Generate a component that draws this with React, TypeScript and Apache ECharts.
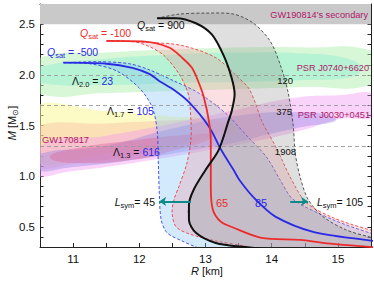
import React, { useEffect, useRef } from 'react';
import * as echarts from 'echarts';

type P = [number, number];
const FONT = '"Liberation Sans", Arial, Helvetica, sans-serif';
const RED = '#ee2b2b';
const BLUE = '#2a2ae6';
const BLACK = '#111111';
const TEAL = '#0d8a8a';
const MAGENTA = '#b0186a';

// axis ranges
const xRange = [10.5, 15.5];
const yRange = [0.3, 2.7];
const xTickStep = 0.5;
const yTickStep = 0.1;

// observation-derived values
const gw190814Band = [2.5, 2.7];
const lambdaMasses = [2.0, 1.7, 1.3];
const lambdaValues = ['23', '105', '616'];
const qsatValues = ['900', '-100', '-500'];
const lsymValues = ['45', '65', '85', '105'];
const grayLabels = ['120', '375', '1908'];
const lsymArrowLeft: P[] = [[12.78, 0.75], [12.3, 0.75]];
const lsymArrowRight: P[] = [[14.28, 0.75], [14.55, 0.75]];

// Q_sat = -500 family (blue)
const blueSolid: P[] = [[10.85, 2.12], [11.505, 2.11], [11.895, 2.07], [12.15, 2.01], [12.3, 1.94], [12.525, 1.85], [12.75, 1.73], [13.05, 1.49], [13.245, 1.25], [13.425, 1.06], [13.515, 0.96], [13.755, 0.77], [14.055, 0.6], [14.625, 0.45], [15.42, 0.37], [15.7, 0.35]];
const blueDashedLeft: P[] = [[10.86, 2.12], [11.25, 2.11], [11.655, 2.04], [12.0, 1.87], [12.195, 1.68], [12.27, 1.45], [12.285, 1.19], [12.3, 0.87], [12.33, 0.57], [12.42, 0.44], [12.645, 0.36], [12.855, 0.3], [13.2, 0.22]];
const blueDashedRight: P[] = [[10.86, 2.12], [11.4, 2.13], [11.85, 2.11], [12.15, 2.05], [12.525, 1.94], [12.9, 1.82], [13.305, 1.62], [13.65, 1.38], [13.92, 1.19], [14.13, 0.96], [14.325, 0.77], [14.925, 0.57], [15.48, 0.44], [15.7, 0.41]];

// Q_sat = -100 family (red)
const redSolid: P[] = [[11.505, 2.335], [12.045, 2.33], [12.45, 2.27], [12.645, 2.17], [12.795, 2.07], [12.9, 1.92], [12.975, 1.78], [13.05, 1.55], [13.08, 1.36], [13.08, 0.9], [13.11, 0.67], [13.23, 0.55], [13.425, 0.49], [13.845, 0.39], [14.43, 0.37], [14.925, 0.33], [15.5, 0.3], [15.7, 0.29]];
const redDashedLeft: P[] = [[11.505, 2.335], [11.9, 2.33], [12.15, 2.28], [12.375, 2.19], [12.6, 2.01], [12.705, 1.875], [12.75, 1.78], [12.78, 1.55], [12.78, 1.36], [12.72, 1.13], [12.6, 0.9], [12.525, 0.77], [12.495, 0.64], [12.555, 0.5], [12.75, 0.43], [13.155, 0.36], [13.575, 0.31], [14.2, 0.22]];
const redDashedRight: P[] = [[11.505, 2.335], [12.15, 2.32], [12.645, 2.29], [13.155, 2.17], [13.5, 1.97], [13.65, 1.87], [13.755, 1.72], [13.845, 1.55], [14.07, 1.28], [14.28, 0.99], [14.52, 0.74], [14.925, 0.59], [15.48, 0.47], [15.7, 0.45]];

// Q_sat = 900 family (black / grey)
const blackSolid: P[] = [[12.27, 2.56], [12.555, 2.56], [12.855, 2.51], [13.095, 2.4], [13.275, 2.19], [13.395, 1.97], [13.44, 1.81], [13.395, 1.64], [13.35, 1.55], [13.2, 1.26], [13.0, 1.06], [12.825, 0.87], [12.75, 0.72], [12.75, 0.57], [12.855, 0.44], [13.155, 0.34], [13.6, 0.3], [14.3, 0.26]];
const blackDashed: P[] = [[12.27, 2.56], [12.6, 2.6], [13.0, 2.61], [13.425, 2.6], [13.725, 2.51], [13.98, 2.33], [14.145, 2.07], [14.25, 1.82], [14.325, 1.5], [14.355, 1.23], [14.43, 0.99], [14.55, 0.77], [14.775, 0.6], [15.12, 0.47], [15.48, 0.4], [15.7, 0.38]];
const bandCorner: P = [15.7, 0.2];

// observational regions
const j0740Outer: P[] = [[10.5, 2.17], [11.5, 2.22], [12.5, 2.25], [13.5, 2.27], [14.5, 2.27], [15.5, 2.24], [15.6, 2.07], [15.5, 1.9], [14.5, 1.88], [13.5, 1.86], [12.5, 1.84], [11.5, 1.82], [10.5, 1.81], [10.4, 2.0]];
const j0740Inner: P[] = [[10.5, 2.08], [11.5, 2.16], [12.5, 2.2], [13.5, 2.22], [14.5, 2.21], [15.2, 2.15], [15.35, 2.06], [15.2, 1.98], [14.5, 1.95], [13.5, 1.93], [12.5, 1.92], [11.5, 1.9], [10.5, 1.92], [10.4, 2.0]];
const j0030Outer: P[] = [[10.5, 1.3], [11.5, 1.4], [12.5, 1.52], [13.5, 1.66], [14.3, 1.77], [15.0, 1.8], [15.6, 1.8], [15.6, 1.6], [15.0, 1.56], [14.5, 1.46], [14.0, 1.38], [13.0, 1.25], [12.0, 1.14], [11.0, 1.05], [10.4, 1.02]];
const j0030Inner: P[] = [[10.4, 1.2], [11.5, 1.3], [12.5, 1.47], [13.5, 1.6], [14.5, 1.63], [14.95, 1.58], [14.95, 1.54], [14.5, 1.49], [14.0, 1.42], [13.5, 1.34], [13.0, 1.28], [12.0, 1.17], [11.0, 1.09], [10.4, 1.06]];
const gwYellow: P[] = [[10.4, 1.68], [11.5, 1.64], [12.5, 1.59], [13.2, 1.56], [13.45, 1.48], [13.3, 1.38], [12.5, 1.3], [11.5, 1.22], [10.4, 1.15]];
const gwPeach: P[] = [[10.4, 1.47], [11.5, 1.52], [12.5, 1.55], [13.1, 1.55], [13.35, 1.47], [13.1, 1.4], [12.0, 1.22], [11.0, 1.12], [10.4, 1.1]];
const gwRose: P[] = [[10.65, 1.19], [11.0, 1.27], [12.0, 1.36], [12.8, 1.41], [13.1, 1.41], [13.05, 1.36], [12.5, 1.25], [12.0, 1.17], [11.0, 1.13]];

function band(left: P[], right: P[]): P[] {
  return [...left, bandCorner, ...right.slice().reverse()];
}

function polySeries(pts: P[], fill: string, z: number, stroke?: string, smooth = 0.3) {
  return {
    type: 'custom',
    coordinateSystem: 'cartesian2d',
    clip: true,
    silent: true,
    z,
    data: [pts[0]],
    renderItem: (_params: any, api: any) => ({
      type: 'polygon',
      shape: { points: pts.map((p) => api.coord(p)), smooth },
      style: stroke
        ? { fill, stroke, lineWidth: 0.8, lineDash: [3, 2] }
        : { fill, stroke: 'none' },
    }),
  };
}

function lineSeries(pts: P[], color: string, width: number) {
  return {
    type: 'line',
    data: pts,
    showSymbol: false,
    smooth: 0.3,
    clip: true,
    silent: true,
    z: 5,
    lineStyle: { color, width },
  };
}

function arrowSeries(pts: P[]) {
  return {
    type: 'lines',
    coordinateSystem: 'cartesian2d',
    silent: true,
    z: 6,
    symbol: ['none', 'arrow'],
    symbolSize: 7,
    lineStyle: { color: TEAL, width: 2, opacity: 1 },
    data: [{ coords: pts }],
  };
}

function richSet(color: string, size = 10.5) {
  const base = { fontFamily: FONT, fill: color, color };
  return {
    i: { ...base, fontStyle: 'italic', fontSize: size, lineHeight: 14, verticalAlign: 'middle' },
    s: { ...base, fontSize: 7.5, lineHeight: 7, verticalAlign: 'bottom' },
    n: { ...base, fontSize: size, lineHeight: 14, verticalAlign: 'middle' },
    b: { fontFamily: FONT, fill: BLUE, color: BLUE, fontSize: size, lineHeight: 14, verticalAlign: 'middle' },
  };
}

function txt(x: number, y: number, text: string, color: string, align = 'left', fontSize = 10.5, rich?: any, rotation = 0) {
  const r = rich || richSet(color, fontSize);
  const t = rich ? text : `{n|${text}}`;
  return {
    type: 'text',
    x,
    y,
    rotation,
    z: 100,
    silent: true,
    style: {
      text: t,
      rich: r,
      fill: color,
      fontSize,
      fontFamily: FONT,
      align,
      verticalAlign: 'middle',
    },
  };
}

const axisLineStyle = { color: '#222', width: 1 };

function xAxisCfg(position: string, labels: boolean) {
  return {
    type: 'value',
    min: xRange[0],
    max: xRange[1],
    interval: xTickStep,
    position,
    axisLine: { show: true, onZero: false, lineStyle: axisLineStyle },
    axisTick: { show: true, inside: true, length: 4, lineStyle: axisLineStyle },
    axisLabel: {
      show: labels,
      margin: 6,
      color: '#111',
      fontSize: 11.5,
      fontFamily: FONT,
      formatter: (v: number) => (Math.abs(v - Math.round(v)) < 1e-6 ? String(Math.round(v)) : ''),
    },
    splitLine: { show: false },
  };
}

function yAxisCfg(position: string, labels: boolean) {
  return {
    type: 'value',
    min: yRange[0],
    max: yRange[1],
    interval: yTickStep,
    position,
    axisLine: { show: true, onZero: false, lineStyle: axisLineStyle },
    axisTick: { show: true, inside: true, length: 3.5, lineStyle: axisLineStyle },
    axisLabel: {
      show: labels,
      margin: 5,
      color: '#111',
      fontSize: 11.5,
      fontFamily: FONT,
      formatter: (v: number) => (Math.abs(v * 2 - Math.round(v * 2)) < 1e-6 ? v.toFixed(1) : ''),
    },
    splitLine: { show: false },
  };
}

function buildOption() {
  const black = richSet(BLACK);
  const red = richSet(RED);
  const blue = richSet(BLUE);
  return {
    animation: false,
    grid: { left: 40, right: 2, top: 4, bottom: 34, containLabel: false },
    xAxis: [xAxisCfg('bottom', true), xAxisCfg('top', false)],
    yAxis: [yAxisCfg('left', true), yAxisCfg('right', false)],
    series: [
      {
        type: 'line',
        data: [],
        z: 1,
        silent: true,
        markArea: {
          silent: true,
          itemStyle: { color: '#c9c9c9' },
          data: [[{ yAxis: gw190814Band[0] }, { yAxis: gw190814Band[1] }]],
        },
      },
      polySeries(j0740Outer, 'rgba(175,240,175,0.5)', 2, undefined, 0.5),
      polySeries(j0740Inner, 'rgba(120,235,205,0.35)', 2, undefined, 0.5),
      polySeries(gwYellow, 'rgba(250,248,150,0.55)', 2, undefined, 0.4),
      polySeries(gwPeach, 'rgba(250,185,160,0.4)', 2, undefined, 0.4),
      polySeries(j0030Outer, 'rgba(240,150,240,0.42)', 2, undefined, 0.5),
      polySeries(j0030Inner, 'rgba(145,130,230,0.38)', 2, undefined, 0.5),
      polySeries(gwRose, 'rgba(220,100,150,0.4)', 2, undefined, 0.5),
      polySeries(band(blueDashedLeft, blueDashedRight), 'rgba(130,195,250,0.35)', 3, BLUE),
      polySeries(band(redDashedLeft, redDashedRight), 'rgba(245,140,150,0.28)', 3, RED),
      polySeries(band(blackSolid, blackDashed), 'rgba(140,140,140,0.28)', 3, '#333'),
      {
        type: 'line',
        data: [],
        z: 4,
        silent: true,
        markLine: {
          silent: true,
          symbol: ['none', 'none'],
          label: { show: false },
          lineStyle: { color: '#9a9a9a', type: [4, 3], width: 0.9 },
          data: lambdaMasses.map((m) => ({ yAxis: m })),
        },
      },
      lineSeries(blueSolid, BLUE, 1.8),
      lineSeries(redSolid, RED, 1.8),
      lineSeries(blackSolid, BLACK, 2),
      arrowSeries(lsymArrowLeft),
      arrowSeries(lsymArrowRight),
    ],
    graphic: [
      txt(368, 15, "GW190814's secondary", MAGENTA, 'right', 9.2),
      txt(369, 68, 'PSR J0740+6620', MAGENTA, 'right', 9.2),
      txt(370, 115, 'PSR J0030+0451', MAGENTA, 'right', 9.2),
      txt(42, 140, 'GW170817', MAGENTA, 'left', 9.3),
      txt(137, 25, `{i|Q}{s|sat}{n| = ${qsatValues[0]}}`, BLACK, 'left', 10.5, black),
      txt(80, 33, `{i|Q}{s|sat}{n| = ${qsatValues[1]}}`, RED, 'left', 10.5, red),
      txt(47, 52, `{i|Q}{s|sat}{n| = ${qsatValues[2]}}`, BLUE, 'left', 10.5, blue),
      txt(72, 81, `{n|Λ}{s|2.0}{n| = }{b|${lambdaValues[0]}}`, BLACK, 'left', 10.5, black),
      txt(107, 111, `{n|Λ}{s|1.7}{n| = }{b|${lambdaValues[1]}}`, BLACK, 'left', 10.5, black),
      txt(113, 152, `{n|Λ}{s|1.3}{n| = }{b|${lambdaValues[2]}}`, BLACK, 'left', 10.5, black),
      txt(155, 202, `{i|L}{s|sym}{n|= ${lsymValues[0]}}`, BLACK, 'right', 10.5, black),
      txt(216, 203, lsymValues[1], RED, 'left', 11),
      txt(255, 203, lsymValues[2], BLUE, 'left', 11),
      txt(317, 202, `{i|L}{s|sym}{n|= ${lsymValues[3]}}`, BLACK, 'left', 10.5, black),
      txt(293, 80, grayLabels[0], BLACK, 'right', 9.5),
      txt(292, 111, grayLabels[1], BLACK, 'right', 9.5),
      txt(296, 151, grayLabels[2], BLACK, 'right', 9.5),
      txt(207, 271, '{i|R}{n| [km]}', BLACK, 'center', 11, richSet(BLACK, 11)),
      txt(12, 123, '{i|M}{n| [M}{s|⊙}{n|]}', BLACK, 'center', 11, richSet(BLACK, 11), Math.PI / 2),
    ],
  };
}

export default function App() {
  const ref = useRef<HTMLDivElement>(null);
  useEffect(() => {
    document.body.style.margin = '0';
    const chart = echarts.init(ref.current!, null, { renderer: 'svg' });
    chart.setOption(buildOption() as any);
    return () => chart.dispose();
  }, []);
  return <div ref={ref} style={{ width: 374, height: 281 }} />;
}
